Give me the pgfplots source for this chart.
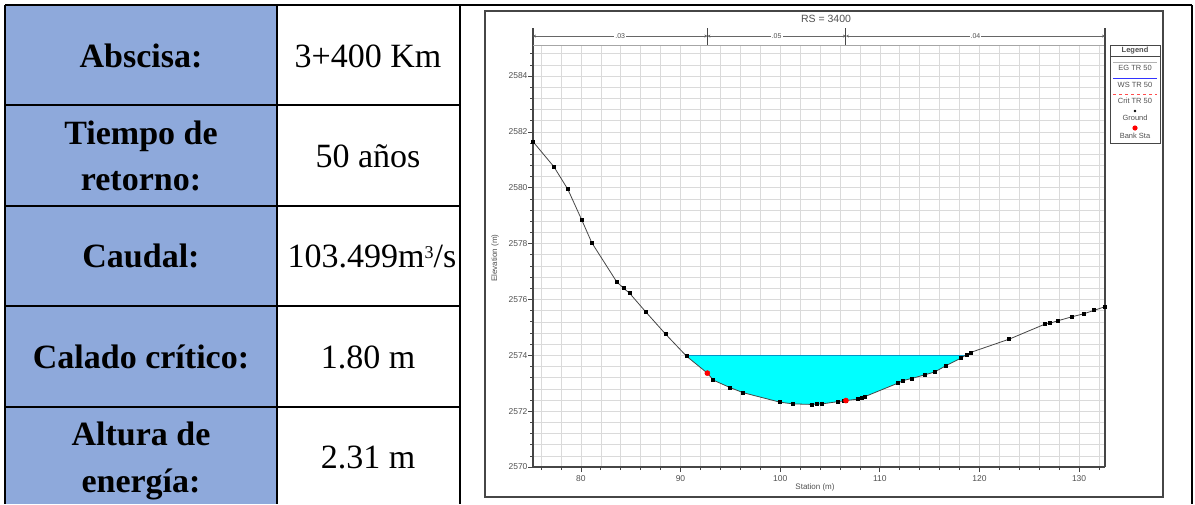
\documentclass[border=0pt]{standalone}
\usepackage{fontspec}
\setmainfont{Liberation Serif}
\newfontfamily\arial{Liberation Sans}
\usepackage{pgfplots}
\usepackage{pgfplotstable}
\pgfplotsset{compat=1.18}
\usetikzlibrary{arrows.meta}
\definecolor{hdrblue}{RGB}{142,169,219}
\definecolor{gridgray}{RGB}{218,218,218}
\definecolor{axgray}{RGB}{70,70,70}
\definecolor{txtgray}{RGB}{80,80,80}
\definecolor{water}{RGB}{0,255,255}
\definecolor{wsline}{RGB}{0,150,200}
\definecolor{groundline}{RGB}{70,70,70}

\pgfplotstableread{
sta elev
75.2 2581.65
77.3 2580.75
78.7 2579.94
80.1 2578.84
81.1 2578.03
83.6 2576.63
84.3 2576.40
84.9 2576.22
86.5 2575.56
88.5 2574.76
90.6 2573.97
92.7 2573.36
93.3 2573.11
95.0 2572.84
96.3 2572.66
100.0 2572.32
101.3 2572.26
103.2 2572.24
103.7 2572.25
104.2 2572.26
105.8 2572.34
106.4 2572.37
106.6 2572.38
107.8 2572.43
108.2 2572.48
108.5 2572.52
111.8 2573.00
112.3 2573.09
113.2 2573.17
114.5 2573.30
115.5 2573.40
116.6 2573.62
118.1 2573.89
118.7 2574.02
119.1 2574.10
123.0 2574.58
126.6 2575.12
127.1 2575.15
127.9 2575.24
129.3 2575.38
130.5 2575.49
131.5 2575.61
132.6 2575.74
}\ground

\pgfplotstableread{
sta elev
90.55 2574.00
90.6 2573.97
92.7 2573.36
93.3 2573.11
95.0 2572.84
96.3 2572.66
100.0 2572.32
101.3 2572.26
103.2 2572.24
103.7 2572.25
104.2 2572.26
105.8 2572.34
106.4 2572.37
106.6 2572.38
107.8 2572.43
108.2 2572.48
108.5 2572.52
111.8 2573.00
112.3 2573.09
113.2 2573.17
114.5 2573.30
115.5 2573.40
116.6 2573.62
118.1 2573.89
118.6 2574.00
}\water

\pgfplotstableread{
sta elev
92.7 2573.36
106.6 2572.38
}\bank

\begin{document}
\begin{tikzpicture}[x=1pt,y=1pt]
\path[use as bounding box] (0,0) rectangle (1195,-504);
% ---------- table ----------
\fill[hdrblue] (5,-5) rectangle (277,-504);
\begin{scope}[line width=2pt]
\draw (5,-5) -- (1192,-5);
\draw (5,-5) -- (5,-504);
\draw (277,-5) -- (277,-504);
\draw (460,-5) -- (460,-504);
\draw (1192,-5) -- (1192,-504);
\foreach \yy in {105,206,306,407} \draw (5,-\yy) -- (460,-\yy);
\end{scope}
\begin{scope}[every node/.style={anchor=base,inner sep=0pt,font=\fontsize{34}{40}\selectfont}]
\node[font=\fontsize{34}{40}\selectfont\bfseries] at (141,-67) {Abscisa:};
\node[font=\fontsize{34}{40}\selectfont\bfseries] at (141,-144) {Tiempo de};
\node[font=\fontsize{34}{40}\selectfont\bfseries] at (141,-190) {retorno:};
\node[font=\fontsize{34}{40}\selectfont\bfseries] at (141,-267) {Caudal:};
\node[font=\fontsize{34}{40}\selectfont\bfseries] at (141,-368) {Calado crítico:};
\node[font=\fontsize{34}{40}\selectfont\bfseries] at (141,-445) {Altura de};
\node[font=\fontsize{34}{40}\selectfont\bfseries] at (141,-492) {energía:};
\node at (368,-67) {3+400 Km};
\node at (368,-167) {50 años};
\node at (372,-267) {103.499m\raisebox{9pt}{\fontsize{18}{20}\selectfont 3}/s};
\node at (368,-368) {1.80 m};
\node at (368,-468) {2.31 m};
\end{scope}
% ---------- chart frame ----------
\draw[axgray, line width=1.3pt] (485,-11) rectangle (1163,-497);
% ---------- axis ----------
\begin{axis}[
  at={(533pt,-467pt)}, anchor=south west,
  scale only axis, width=572pt, height=422pt,
  xmin=75.2, xmax=132.6, ymin=2570, ymax=2585.11,
  clip=false,
  axis x line*=bottom, axis y line*=left,
  axis line style={axgray, line width=1.2pt},
  tick align=outside,
  major tick length=5pt, minor tick length=3pt,
  tick style={axgray, line width=0.6pt},
  xtick={80,90,...,130},
  minor xtick={76,78,...,132},
  ytick={2570,2572,...,2584},
  minor ytick={2570,2570.4,...,2585},
  grid=both,
  grid style={gridgray, line width=0.5pt},
  minor grid style={gridgray, line width=0.5pt},
  /pgf/number format/assume math mode=true,
  /pgf/number format/1000 sep={},
  ticklabel style={font=\arial\fontsize{8.5}{9}\selectfont, text=txtgray},
  yticklabel style={xshift=3pt},
]
\addplot[draw=none, fill=water] table[x=sta,y=elev] {\water} -- cycle;
\addplot[draw=wsline, line width=0.5pt] coordinates {(90.55,2574) (118.6,2574)};
\addplot[draw=groundline, line width=0.8pt, mark=square*, mark size=1.5pt, mark options={black, solid}] table[x=sta,y=elev] {\ground};
\addplot[only marks, mark=*, mark size=2.6pt, color=red] table[x=sta,y=elev] {\bank};
% top gray frame line and right axis line
\draw[gray!70, line width=0.8pt] (axis cs:75.2,2585.11) -- (axis cs:132.6,2585.11);
\draw[axgray, line width=1.2pt] (axis cs:132.6,2570) -- (axis cs:132.6,2585.72);
\draw[axgray, line width=1.2pt] (axis cs:75.2,2585.11) -- (axis cs:75.2,2585.72);
% Manning n bar
\draw[gray!80!black, line width=0.8pt, {Stealth[length=3pt,width=3pt]}-{Stealth[length=3pt,width=3pt]}] (axis cs:75.2,2585.43) -- node[fill=white, inner sep=1pt, font=\arial\fontsize{7}{8}\selectfont, text=txtgray]{.03} (axis cs:92.7,2585.43);
\draw[gray!80!black, line width=0.8pt, {Stealth[length=3pt,width=3pt]}-{Stealth[length=3pt,width=3pt]}] (axis cs:92.7,2585.43) -- node[fill=white, inner sep=1pt, font=\arial\fontsize{7}{8}\selectfont, text=txtgray]{.05} (axis cs:106.6,2585.43);
\draw[gray!80!black, line width=0.8pt, {Stealth[length=3pt,width=3pt]}-{Stealth[length=3pt,width=3pt]}] (axis cs:106.6,2585.43) -- node[fill=white, inner sep=1pt, font=\arial\fontsize{7}{8}\selectfont, text=txtgray]{.04} (axis cs:132.6,2585.43);
\draw[axgray, line width=0.9pt] (axis cs:92.7,2585.11) -- (axis cs:92.7,2585.72);
\draw[axgray, line width=0.9pt] (axis cs:106.6,2585.11) -- (axis cs:106.6,2585.72);
\end{axis}
% ---------- chart texts ----------
\node[font=\arial\fontsize{10.5}{12}\selectfont, text=txtgray] at (826,-19) {RS = 3400};
\node[font=\arial\fontsize{8}{9}\selectfont, text=txtgray, rotate=90] at (495,-258) {Elevation (m)};
\node[font=\arial\fontsize{8}{9}\selectfont, text=txtgray] at (815,-487) {Station (m)};
% ---------- legend ----------
\draw[axgray, line width=0.8pt] (1110,-45) rectangle (1160,-143);
\draw[axgray, line width=0.6pt] (1110,-56) -- (1160,-56);
\begin{scope}[every node/.style={font=\arial\fontsize{7.5}{8}\selectfont, text=txtgray, inner sep=0pt}]
\node[font=\arial\bfseries\fontsize{7.5}{8}\selectfont] at (1135,-50.5) {Legend};
\draw[gray!60, line width=0.5pt] (1113,-62) -- (1157,-62);
\node at (1135,-68) {EG TR 50};
\draw[blue!80, line width=0.8pt] (1113,-78) -- (1157,-78);
\node at (1135,-85) {WS TR 50};
\draw[red!70, line width=0.5pt, dashed] (1113,-94) -- (1157,-94);
\node at (1135,-101) {Crit TR 50};
\fill[black] (1135,-111) circle (1.3);
\node at (1135,-118) {Ground};
\fill[red] (1135,-128) circle (2.6);
\node at (1135,-136) {Bank Sta};
\end{scope}
\end{tikzpicture}
\end{document}
